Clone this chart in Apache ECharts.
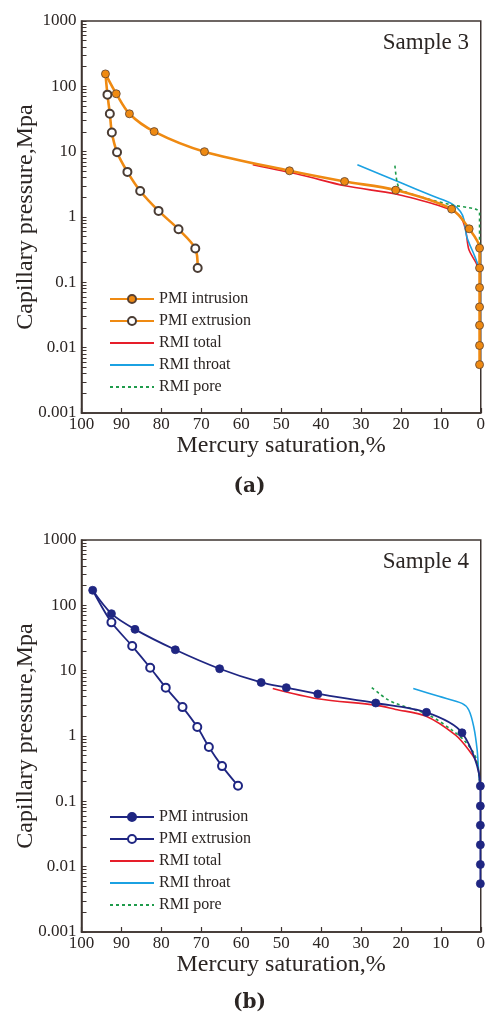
<!DOCTYPE html>
<html>
<head>
<meta charset="utf-8">
<script src="https://cdn.jsdelivr.net/npm/echarts@6/dist/echarts.min.js"></script>
<style>
  html, body { margin: 0; padding: 0; background: #fff; }
  #main { width: 488px; height: 1017px; }
</style>
</head>
<body>
<div id="main"></div>
<script>
// ---- Sample 3 (a) ----
var intrA_sat = [94.0, 91.3, 88.0, 81.8, 69.2, 47.9, 34.1, 21.3, 7.3, 2.9, 0.3, 0.3, 0.3, 0.3, 0.3, 0.3, 0.3];
var intrA_pc  = [155, 77, 38, 20.3, 10, 5.1, 3.5, 2.58, 1.32, 0.66, 0.334, 0.166, 0.083, 0.042, 0.022, 0.0108, 0.0055];
var extrA_sat = [94.0, 93.5, 92.9, 92.4, 91.1, 88.5, 85.3, 80.7, 75.7, 71.5, 70.9];
var extrA_pc  = [155, 74.6, 38, 19.6, 9.8, 4.9, 2.5, 1.24, 0.65, 0.33, 0.166];
var totalA_sat = [57.1, 45, 34, 21.3, 12, 8.0, 5.1, 3.8, 3.0, 1.2, 0.3];
var totalA_pc  = [6.3, 4.4, 3.0, 2.25, 1.6, 1.32, 1.02, 0.64, 0.32, 0.2, 0.15];
var throatA_sat = [30.9, 20, 12, 7.2, 5.1, 4.2, 3.5, 1.5, 0.3];
var throatA_pc  = [6.3, 3.34, 2.09, 1.59, 1.21, 0.91, 0.5, 0.25, 0.16];
var poreA_sat = [21.5, 20.9, 20.0, 14, 7.2, 1.3, 0.3, 0.3, 0.3];
var poreA_pc  = [6.1, 3.3, 2.6, 1.95, 1.53, 1.32, 1.15, 0.4, 0.16];

// ---- Sample 4 (b) ----
var intrB_sat = [97.2, 92.5, 86.6, 76.5, 65.4, 55.0, 48.7, 40.8, 26.3, 13.6, 4.7, 0.1, 0.1, 0.1, 0.1, 0.1, 0.1];
var intrB_pc  = [170, 74.5, 42.9, 20.9, 10.7, 6.6, 5.5, 4.4, 3.2, 2.3, 1.12, 0.171, 0.085, 0.043, 0.0216, 0.0108, 0.0055];
var extrB_sat = [97.2, 92.5, 87.3, 82.8, 78.9, 74.7, 71.0, 68.1, 64.8, 60.8];
var extrB_pc  = [170, 54.9, 23.8, 11.1, 5.5, 2.77, 1.37, 0.68, 0.346, 0.173];
var totalB_sat = [52.1, 40.8, 26.3, 21.3, 13.8, 6.3, 3.0, 0.9, 0.3];
var totalB_pc  = [5.35, 3.72, 2.97, 2.55, 2.02, 1.03, 0.61, 0.38, 0.19];
var throatB_sat = [16.9, 10.5, 4.7, 3.0, 1.75, 0.9, 0.5, 0.3];
var throatB_pc  = [5.35, 4.05, 3.16, 2.5, 1.38, 0.61, 0.27, 0.19];
var poreB_sat = [27.3, 25.5, 23.4, 21.3, 13.0, 7.2, 3.8, 1.3, 0.3];
var poreB_pc  = [5.5, 4.5, 3.63, 3.16, 2.09, 1.23, 0.81, 0.48, 0.21];

var legendNames = ['PMI intrusion', 'PMI extrusion', 'RMI total', 'RMI throat', 'RMI pore'];
// log ticks: every 1..9 step of each decade
var yTicks = [];
[0.001, 0.01, 0.1, 1, 10, 100].forEach(function (d) {
  for (var k = 1; k <= 9; k++) yTicks.push(+(d * k).toPrecision(3));
});
yTicks.push(1000);

var frame = '#3e3431';
var textColor = '#2b2523';
var serif = '"Liberation Serif", "Times New Roman", serif';
var orange = '#ef8a12';
var navy = '#1f2682';
var red = '#e61e2a';
var blue = '#1ba1e2';
var green = '#1f9b4b';

function zip(xs, ys) {
  return xs.map(function (x, i) { return [x, ys[i]]; });
}

var grids = [
  { left: 81.5, top: 21, width: 400.5, height: 392, show: true, borderColor: frame, borderWidth: 1.5 },
  { left: 81.5, top: 540, width: 400.5, height: 392, show: true, borderColor: frame, borderWidth: 1.5 }
];

var xAxes = [], yAxes = [];
[0, 1].forEach(function (g) {
  xAxes.push({
    gridIndex: g, type: 'value', min: 0, max: 100, interval: 10, inverse: true,
    axisLine: { show: true, onZero: false, lineStyle: { color: frame, width: 1.5 } },
    axisTick: { show: true, inside: true, length: 5, lineStyle: { color: frame, width: 1.2 } },
    axisLabel: { color: textColor, fontFamily: serif, fontSize: 17, margin: 3 },
    splitLine: { show: false },
    name: 'Mercury saturation,%', nameLocation: 'middle', nameGap: 20,
    nameTextStyle: { color: textColor, fontFamily: serif, fontSize: 24 }
  });
  yAxes.push({
    gridIndex: g, type: 'log', logBase: 10, min: 0.001, max: 1000, position: 'left',
    axisLine: { show: true, onZero: false, lineStyle: { color: frame, width: 1.5 } },
    axisTick: { show: true, inside: true, length: 5, customValues: yTicks, lineStyle: { color: frame, width: 1 } },
    axisLabel: {
      color: textColor, fontFamily: serif, fontSize: 17, margin: 5,
      formatter: function (v) { return String(+(+v).toPrecision(3)); }
    },
    splitLine: { show: false },
    name: 'Capillary pressure,Mpa', nameLocation: 'middle', nameGap: 44, nameMoveOverlap: false,
    nameTextStyle: { color: textColor, fontFamily: serif, fontSize: 24 }
  });
});

function rmiSeries(name, g, color, sat, pc, dashed) {
  return {
    name: name, type: 'line', xAxisIndex: g, yAxisIndex: g,
    data: zip(sat, pc), smooth: 0.3, symbol: 'none',
    lineStyle: { color: color, width: 1.6, type: dashed ? [3, 3] : 'solid' },
    itemStyle: { color: color }, z: 2
  };
}

function pmiSeries(name, g, color, border, fill, sat, pc, open, width) {
  var data = zip(sat, pc);
  if (open) {
    data = data.map(function (p, i) { return i === 0 ? { value: p, symbol: 'none' } : p; });
  }
  return {
    name: name, type: 'line', xAxisIndex: g, yAxisIndex: g,
    data: data, smooth: 0.3,
    symbol: open ? 'emptyCircle' : 'circle', symbolSize: 8,
    lineStyle: { color: color, width: width },
    itemStyle: open
      ? { color: border, borderWidth: 1 }
      : { color: fill, borderColor: border, borderWidth: 0.8 },
    z: open ? 3 : 4
  };
}

function legendData(tag) {
  return legendNames.map(function (n, i) {
    var item = { name: n + ' ' + tag };
    if (i > 1) item.itemStyle = { opacity: 0 };
    return item;
  });
}

var series = [
  rmiSeries('RMI total (a)', 0, red, totalA_sat, totalA_pc),
  rmiSeries('RMI throat (a)', 0, blue, throatA_sat, throatA_pc),
  rmiSeries('RMI pore (a)', 0, green, poreA_sat, poreA_pc, true),
  pmiSeries('PMI extrusion (a)', 0, orange, '#4a3c34', '#fff', extrA_sat, extrA_pc, true, 2.6),
  pmiSeries('PMI intrusion (a)', 0, orange, '#5a4030', orange, intrA_sat, intrA_pc, false, 2.6),
  rmiSeries('RMI total (b)', 1, red, totalB_sat, totalB_pc),
  rmiSeries('RMI throat (b)', 1, blue, throatB_sat, throatB_pc),
  rmiSeries('RMI pore (b)', 1, green, poreB_sat, poreB_pc, true),
  pmiSeries('PMI extrusion (b)', 1, navy, navy, '#fff', extrB_sat, extrB_pc, true, 1.8),
  pmiSeries('PMI intrusion (b)', 1, navy, navy, navy, intrB_sat, intrB_pc, false, 1.8)
];

function makeLegend(tag, top) {
  return {
    orient: 'vertical', left: 104, top: top, itemWidth: 44, itemHeight: 10, itemGap: 6,
    data: legendData(tag), selectedMode: false,
    formatter: function (n) { return n.replace(/ \([ab]\)$/, ''); },
    textStyle: { color: textColor, fontFamily: serif, fontSize: 16 }
  };
}

function label(text, x, y, size, align, bold, family) {
  return {
    type: 'text', x: x, y: y, silent: true,
    style: {
      text: text, fill: textColor, align: align, verticalAlign: 'middle',
      font: (bold ? 'bold ' : '') + size + 'px ' + (family || serif)
    }
  };
}

var option = {
  animation: false,
  backgroundColor: '#fff',
  grid: grids,
  xAxis: xAxes,
  yAxis: yAxes,
  legend: [makeLegend('(a)', 286), makeLegend('(b)', 804)],
  series: series,
  graphic: [
    label('Sample 3', 469, 43, 23, 'right'),
    label('Sample 4', 469, 562, 23, 'right'),
    label('(a)', 249.5, 487, 20, 'center', true, '"DejaVu Serif", serif'),
    label('(b)', 249.5, 1003, 20, 'center', true, '"DejaVu Serif", serif')
  ]
};

var mychart = echarts.init(document.getElementById('main'));
mychart.setOption(option);
</script>
</body>
</html>
